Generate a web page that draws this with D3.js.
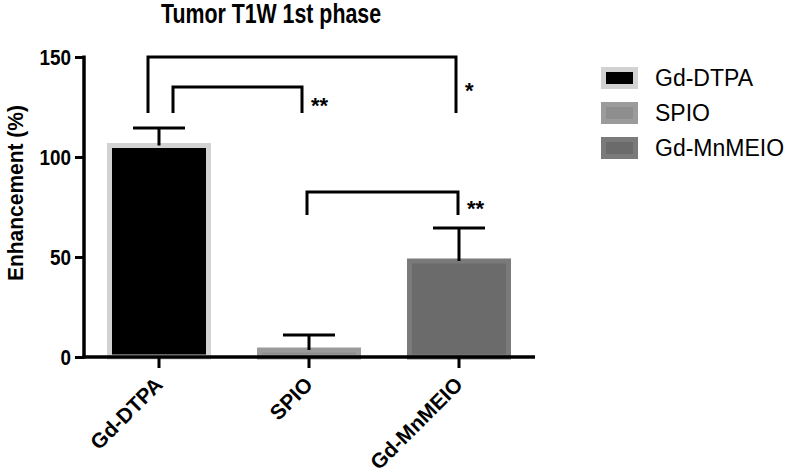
<!DOCTYPE html>
<html>
<head>
<meta charset="utf-8">
<script src="https://cdn.jsdelivr.net/npm/d3@7"></script>
<style>
  html, body { margin: 0; padding: 0; background: #fff; }
  svg { display: block; font-family: "Liberation Sans", Arial, Helvetica, sans-serif; }
</style>
</head>
<body>
<svg id="chart" width="790" height="475"></svg>
<script>
// ---- data ----
const categories = ["Gd-DTPA", "SPIO", "Gd-MnMEIO"];
const means = [105.75, 3.5, 48];
const errors = [8.75, 7.5, 16.5];
const yTicks = [0, 50, 100, 150];
const fills = ["#000000", "#8e8e8e", "#6b6b6b"];
const borders = ["#d2d2d2", "#9b9b9b", "#7a7a7a"];
// significance brackets: from category, to category, bar level, leg bottom level, label
const bracketFrom = [0, 0, 1];
const bracketTo = [2, 1, 2];
const bracketTop = [150, 135, 82.5];
const bracketLegBottom = [122, 122, 71];
const bracketLabels = ["*", "**", "**"];

// ---- layout ----
const svg = d3.select("#chart");
const x = d3.scalePoint().domain(categories).range([159, 459]);
const y = d3.scaleLinear().domain([0, 150]).range([357, 57]);
const barW = 99;

// title
svg.append("text").attr("x", 161).attr("y", 23)
  .attr("font-size", 27).attr("font-weight", "bold")
  .attr("textLength", 220).attr("lengthAdjust", "spacingAndGlyphs")
  .text("Tumor T1W 1st phase");

// y label
svg.append("text").attr("transform", "translate(23," + 193 + ") rotate(-90)")
  .attr("text-anchor", "middle").attr("font-size", 22).attr("font-weight", "bold")
  .attr("textLength", 176).attr("lengthAdjust", "spacingAndGlyphs")
  .text("Enhancement (%)");

// bars
const g = svg.append("g");
categories.forEach((c, i) => {
  g.append("rect")
    .attr("x", x(c) - barW / 2).attr("width", barW)
    .attr("y", y(means[i])).attr("height", y(0) - y(means[i]))
    .attr("fill", fills[i]).attr("stroke", borders[i]).attr("stroke-width", 5);
  // error bar
  g.append("line").attr("x1", x(c)).attr("x2", x(c))
    .attr("y1", y(means[i])).attr("y2", y(means[i] + errors[i]))
    .attr("stroke", "#000").attr("stroke-width", 3);
  g.append("line").attr("x1", x(c) - 26).attr("x2", x(c) + 26)
    .attr("y1", y(means[i] + errors[i])).attr("y2", y(means[i] + errors[i]))
    .attr("stroke", "#000").attr("stroke-width", 3);
});

// y axis
const yAxis = d3.axisLeft(y).tickValues(yTicks).tickSize(9).tickPadding(4).tickSizeOuter(0);
const ya = svg.append("g").attr("transform", "translate(84,0)").call(yAxis);
ya.select(".domain").attr("stroke-width", 3.5).attr("d", "M0," + (y(150) - 1.5) + "V" + (y(0) + 1.5));
ya.selectAll(".tick line").attr("stroke-width", 3);
ya.selectAll(".tick text").attr("font-size", 21.5).attr("font-weight", "bold")
  .attr("font-family", "Liberation Sans, Arial, sans-serif").attr("fill", "#000").attr("dy", "0.36em")
  .attr("textLength", d => String(d).length * 10.5).attr("lengthAdjust", "spacingAndGlyphs");

// x axis
svg.append("line").attr("x1", 82.5).attr("x2", 535).attr("y1", y(0)).attr("y2", y(0))
  .attr("stroke", "#000").attr("stroke-width", 3.5);
categories.forEach((c) => {
  svg.append("line").attr("x1", x(c)).attr("x2", x(c)).attr("y1", y(0)).attr("y2", y(0) + 11)
    .attr("stroke", "#000").attr("stroke-width", 3);
  svg.append("text")
    .attr("transform", "translate(" + (x(c) + 5) + "," + (y(0) + 29) + ") rotate(-45)")
    .attr("text-anchor", "end").attr("font-size", 21).attr("font-weight", "bold")
    .text(c);
});

// brackets
const starBaseShift = [-15, 0, 1];
bracketLabels.forEach((lab, i) => {
  const offs = [[-11, -3], [14, -7], [-2, -1]][i];
  const x1 = x(categories[bracketFrom[i]]) + offs[0];
  const x2 = x(categories[bracketTo[i]]) + offs[1];
  const yt = y(bracketTop[i]), yb = y(bracketLegBottom[i]);
  svg.append("path")
    .attr("d", `M${x1},${yb}V${yt}H${x2}V${yb}`)
    .attr("fill", "none").attr("stroke", "#000").attr("stroke-width", 3);
  svg.append("text").attr("x", x2 + 9).attr("y", yb + starBaseShift[i])
    .attr("font-size", 22).attr("font-weight", "bold").text(lab);
});

// legend
const leg = svg.append("g").attr("transform", "translate(601,67)");
categories.forEach((c, i) => {
  const row = leg.append("g").attr("transform", "translate(0," + i * 35 + ")");
  row.append("rect").attr("x", 2.5).attr("y", 2.5).attr("width", 32).attr("height", 17)
    .attr("fill", fills[i]).attr("stroke", borders[i]).attr("stroke-width", 5);
  row.append("text").attr("x", 54).attr("y", 19).attr("font-size", 23)
    .attr("font-family", "Liberation Sans, Arial, sans-serif").text(c);
});
</script>
</body>
</html>
